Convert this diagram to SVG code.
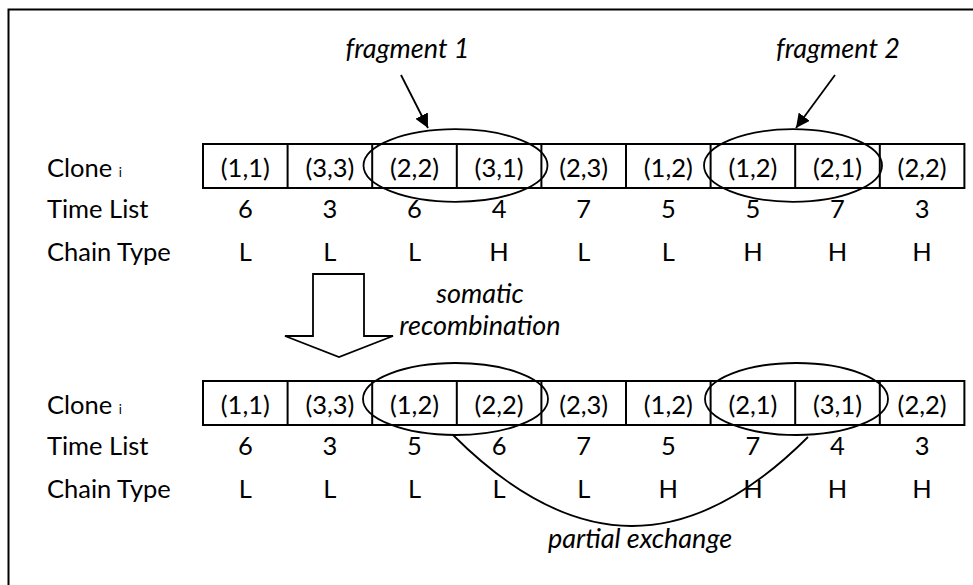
<svg xmlns="http://www.w3.org/2000/svg" width="973" height="585" viewBox="0 0 973 585">
  <style>
    text { font-family: Lato, "Liberation Sans", sans-serif; font-size: 25.5px; fill: #000; }
    .c { text-anchor: middle; }
    .it { font-style: italic; font-size: 27px; }
    .sub { font-size: 13px; }
    .cell { fill: #fff; stroke: #000; stroke-width: 2; }
    .ring { fill: none; stroke: #000; stroke-width: 1.8; }
    .line { fill: none; stroke: #000; stroke-width: 1.8; }
  </style>
  <defs>
    <marker id="head" markerUnits="userSpaceOnUse" markerWidth="16" markerHeight="14" refX="14" refY="7" orient="auto">
      <path d="M0,0 L14,7 L0,14 Z" fill="#000"/>
    </marker>
    <!-- one row of nine cells, 84.6 wide each -->
    <g id="row">
      <rect class="cell" x="203" y="0" width="761.4" height="44"/>
      <path d="M287.6,0V44M372.2,0V44M456.8,0V44M541.4,0V44M626,0V44M710.6,0V44M795.2,0V44M879.8,0V44" stroke="#000" stroke-width="2"/>
    </g>
  </defs>
  <rect width="973" height="585" fill="#fff"/>

  <!-- outer frame (left and top edges) -->
  <path d="M8.5,585 V9.5 H973" fill="none" stroke="#000" stroke-width="2"/>

  <!-- before recombination -->
  <g id="clone-before">
    <use href="#row" y="144"/>
    <text x="47" y="177">Clone <tspan class="sub">i</tspan></text>
    <g class="c">
      <text x="245.3" y="177">(1,1)</text>
      <text x="329.9" y="177">(3,3)</text>
      <text x="414.5" y="177">(2,2)</text>
      <text x="499.1" y="177">(3,1)</text>
      <text x="583.7" y="177">(2,3)</text>
      <text x="668.3" y="177">(1,2)</text>
      <text x="752.9" y="177">(1,2)</text>
      <text x="837.5" y="177">(2,1)</text>
      <text x="922.1" y="177">(2,2)</text>
    </g>
  </g>
  <g id="time-before">
    <text x="47" y="218">Time List</text>
    <g class="c">
      <text x="245.3" y="218">6</text>
      <text x="329.9" y="218">3</text>
      <text x="414.5" y="218">6</text>
      <text x="499.1" y="218">4</text>
      <text x="583.7" y="218">7</text>
      <text x="668.3" y="218">5</text>
      <text x="752.9" y="218">5</text>
      <text x="837.5" y="218">7</text>
      <text x="922.1" y="218">3</text>
    </g>
  </g>
  <g id="chain-before">
    <text x="47" y="261">Chain Type</text>
    <g class="c">
      <text x="245.3" y="261">L</text>
      <text x="329.9" y="261">L</text>
      <text x="414.5" y="261">L</text>
      <text x="499.1" y="261">H</text>
      <text x="583.7" y="261">L</text>
      <text x="668.3" y="261">L</text>
      <text x="752.9" y="261">H</text>
      <text x="837.5" y="261">H</text>
      <text x="922.1" y="261">H</text>
    </g>
  </g>

  <g id="fragment-1">
    <ellipse class="ring" cx="455.5" cy="165.5" rx="92" ry="36.3"/>
    <text class="c it" x="407.5" y="58">fragment 1</text>
  </g>
  <g id="fragment-2">
    <ellipse class="ring" cx="793" cy="165.5" rx="89" ry="36.3"/>
    <text class="c it" x="838" y="58">fragment 2</text>
  </g>

  <!-- somatic recombination step -->
  <g id="recombination">
    <polygon points="313,274 364,274 364,336 393,336 339,357 285,336 313,336" fill="#fff" stroke="#000" stroke-width="1.8" stroke-linejoin="miter"/>
    <text class="c it" x="480" y="303">somatic</text>
    <text class="c it" x="480" y="335">recombination</text>
  </g>

  <!-- after recombination -->
  <g id="clone-after">
    <use href="#row" y="381"/>
    <text x="47" y="414">Clone <tspan class="sub">i</tspan></text>
    <g class="c">
      <text x="245.3" y="414">(1,1)</text>
      <text x="329.9" y="414">(3,3)</text>
      <text x="414.5" y="414">(1,2)</text>
      <text x="499.1" y="414">(2,2)</text>
      <text x="583.7" y="414">(2,3)</text>
      <text x="668.3" y="414">(1,2)</text>
      <text x="752.9" y="414">(2,1)</text>
      <text x="837.5" y="414">(3,1)</text>
      <text x="922.1" y="414">(2,2)</text>
    </g>
  </g>
  <g id="time-after">
    <text x="47" y="455">Time List</text>
    <g class="c">
      <text x="245.3" y="455">6</text>
      <text x="329.9" y="455">3</text>
      <text x="414.5" y="455">5</text>
      <text x="499.1" y="455">6</text>
      <text x="583.7" y="455">7</text>
      <text x="668.3" y="455">5</text>
      <text x="752.9" y="455">7</text>
      <text x="837.5" y="455">4</text>
      <text x="922.1" y="455">3</text>
    </g>
  </g>
  <g id="chain-after">
    <text x="47" y="498">Chain Type</text>
    <g class="c">
      <text x="245.3" y="498">L</text>
      <text x="329.9" y="498">L</text>
      <text x="414.5" y="498">L</text>
      <text x="499.1" y="498">L</text>
      <text x="583.7" y="498">L</text>
      <text x="668.3" y="498">H</text>
      <text x="752.9" y="498">H</text>
      <text x="837.5" y="498">H</text>
      <text x="922.1" y="498">H</text>
    </g>
  </g>

  <g id="swapped-1">
    <ellipse class="ring" cx="455.5" cy="399" rx="92.5" ry="36"/>
  </g>
  <g id="swapped-2">
    <ellipse class="ring" cx="796.5" cy="399" rx="91.5" ry="36"/>
  </g>

  <g id="connectors">
    <line class="line" x1="401" y1="75" x2="428" y2="128" marker-end="url(#head)"/>
    <line class="line" x1="835" y1="75" x2="796" y2="128" marker-end="url(#head)"/>
    <path class="line" d="M453,435 C574,556 689,556 808,437"/>
  </g>
  <text class="c it" x="640" y="548">partial exchange</text>
</svg>
